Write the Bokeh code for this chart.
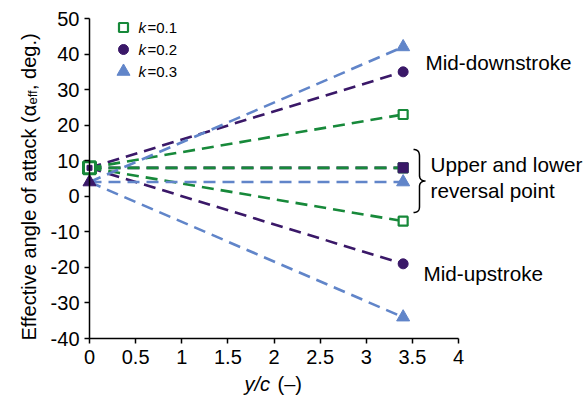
import numpy as np
from bokeh.plotting import figure
from bokeh.models import Range1d, FixedTicker, Label
from bokeh.core.properties import value
from bokeh.embed import file_html
from bokeh.resources import INLINE

# ---------------- data ----------------
x_start = 0.0
x_end = 3.4
phases = ["Mid-downstroke", "Upper and lower reversal point", "Mid-upstroke"]
k01_start = 8
k01_end = [23, 8, -7]
k02_start = 8
k02_end = [35, 8, -19]
k03_start = 4
k03_end = [42, 4, -34]
legend_labels = ["0.1", "0.2", "0.3"]
x_ticks = [0, 0.5, 1, 1.5, 2, 2.5, 3, 3.5, 4]
y_ticks = [-40, -30, -20, -10, 0, 10, 20, 30, 40, 50]

# ---------------- style ----------------
GREEN = "#17893a"
PURPLE = "#3a1868"
BLUE = "#6185c9"
FONT = "Liberation Sans"
DASH = "12 7"
LW = 2.6

W, H = 587, 396
X0_PX = 89          # px of x = 0
PPU_X = 92.25       # px per x unit
Y50_PX = 18         # px of y = 50
PPU_Y = 320 / 90    # px per y unit
x_lo = -X0_PX / PPU_X
x_hi = (W - X0_PX) / PPU_X
y_hi = 50 + Y50_PX / PPU_Y
y_lo = 50 - (H - Y50_PX) / PPU_Y

p = figure(width=W, height=H, output_backend="svg", toolbar_location=None,
           x_range=Range1d(x_lo, x_hi), y_range=Range1d(y_lo, y_hi),
           min_border=0)
p.outline_line_color = None
p.grid.visible = False
p.background_fill_color = "white"
p.border_fill_color = "white"


# pixel -> data helpers, used only for annotation placement
def px2x(px):
    return (px - X0_PX) / PPU_X


def py2y(py):
    return 50 - (py - Y50_PX) / PPU_Y


# axes
for ax in (p.xaxis[0], p.yaxis[0]):
    ax.axis_line_color = "black"
    ax.axis_line_width = 1.5
    ax.major_tick_line_color = "black"
    ax.major_tick_line_width = 1.5
    ax.major_tick_out = 5
    ax.major_tick_in = 0
    ax.minor_tick_line_color = None
    ax.major_label_text_font = FONT
    ax.major_label_text_font_size = "20px"
    ax.major_label_text_color = "black"
    ax.axis_label = None

p.xaxis.ticker = FixedTicker(ticks=x_ticks)
p.xaxis.major_label_overrides = {t: ("%g" % t) for t in x_ticks}
p.xaxis.bounds = (0, 4)
p.xaxis.fixed_location = -40
p.xaxis.major_label_standoff = 6
p.yaxis.ticker = FixedTicker(ticks=y_ticks)
p.yaxis.major_label_overrides = {t: ("%g" % t) for t in y_ticks}
p.yaxis.bounds = (-40, 50)
p.yaxis.fixed_location = 0
p.yaxis.major_label_standoff = 5

# lines (purple first so the green reversal line lies on top)
series = [(k02_start, k02_end, PURPLE), (k01_start, k01_end, GREEN),
          (k03_start, k03_end, BLUE)]
for start, ends, col in series:
    n = len(ends)
    p.segment(x0=[x_start] * n, y0=[start] * n, x1=[x_end] * n, y1=ends,
              line_color=col, line_width=LW, line_dash=DASH)

# end markers
p.scatter([x_end] * 3, k01_end, marker="square", size=9, fill_color="white",
          line_color=GREEN, line_width=2.2)
p.scatter([x_end, x_end], [k02_end[0], k02_end[2]], marker="circle", size=10,
          fill_color=PURPLE, line_color=PURPLE)
p.scatter([x_end], [k02_end[1]], marker="square", size=10,
          fill_color=PURPLE, line_color=PURPLE)
p.scatter([x_end] * 3, k03_end, marker="triangle", size=13,
          fill_color=BLUE, line_color=BLUE)

# start markers
p.scatter([x_start], [k01_start], marker="square", size=12, fill_color="white",
          line_color=GREEN, line_width=3)
p.scatter([x_start], [k02_start], marker="square", size=5,
          fill_color=PURPLE, line_color=PURPLE)
p.scatter([x_start], [k03_start], marker="triangle", size=13,
          fill_color=PURPLE, line_color=PURPLE)

# legend (manual)
leg_x = px2x(123)
leg_y = [py2y(27), py2y(49), py2y(71)]
p.scatter([leg_x], [leg_y[0]], marker="square", size=9, fill_color="white",
          line_color=GREEN, line_width=2.2)
p.scatter([leg_x], [leg_y[1]], marker="circle", size=10, fill_color=PURPLE,
          line_color=PURPLE)
p.scatter([leg_x], [leg_y[2]], marker="triangle", size=13, fill_color=BLUE,
          line_color=BLUE)
p.text(x=[px2x(138)] * 3, y=leg_y, text=["k"] * 3, text_font=value(FONT),
       text_font_style="italic", text_font_size="15px", text_baseline="middle",
       text_color="black")
p.text(x=[px2x(147)] * 3, y=leg_y, text=["=" + s for s in legend_labels],
       text_font=value(FONT), text_font_size="15px", text_baseline="middle",
       text_color="black")

# annotations
ANN = "20.7px"
p.text(x=[px2x(425)], y=[py2y(62)], text=[phases[0]], text_font=value(FONT),
       text_font_size=ANN, text_baseline="middle", text_color="black")
p.text(x=[px2x(430), px2x(430)], y=[py2y(164), py2y(190)],
       text=["Upper and lower", "reversal point"], text_font=value(FONT),
       text_font_size=ANN, text_baseline="middle", text_color="black")
p.text(x=[px2x(423)], y=[py2y(273)], text=[phases[2]], text_font=value(FONT),
       text_font_size=ANN, text_baseline="middle", text_color="black")


# brace
def bez(p0, p1, p2, p3, n=12):
    t = np.linspace(0, 1, n)[:, None]
    pts = ((1 - t) ** 3) * np.array(p0) + 3 * ((1 - t) ** 2) * t * np.array(p1) \
        + 3 * (1 - t) * t ** 2 * np.array(p2) + t ** 3 * np.array(p3)
    return pts


segs = [
    bez((413, 149), (417, 149), (419, 151), (419, 156)),
    np.array([(419, 156), (419, 175)]),
    bez((419, 175), (419, 179), (422, 180.5), (425, 180.5)),
    bez((425, 180.5), (422, 180.5), (419, 182), (419, 186)),
    np.array([(419, 186), (419, 206)]),
    bez((419, 206), (419, 210), (417, 212), (413, 212)),
]
pts = np.vstack(segs)
p.line(px2x(pts[:, 0]), py2y(pts[:, 1]), line_color="black", line_width=1.5)


# axis titles (manual, mixed styles) in data units
def lab(px, py, text, size="20px", style="normal", angle=0.0):
    p.add_layout(Label(x=px2x(px), y=py2y(py), text=text, text_font=FONT,
                       text_font_size=size, text_font_style=style, angle=angle,
                       text_baseline="alphabetic", text_color="black"))


lab(28, 340, "Effective angle of attack (\u03b1", angle=np.pi / 2)
lab(32, 104, "eff", size="13px", angle=np.pi / 2)
lab(28, 89.5, ", deg.)", angle=np.pi / 2)
lab(244, 383, "y/c", style="italic")
lab(277, 383, "(\u2013)")

open("out.html", "w").write(file_html(p, INLINE))
